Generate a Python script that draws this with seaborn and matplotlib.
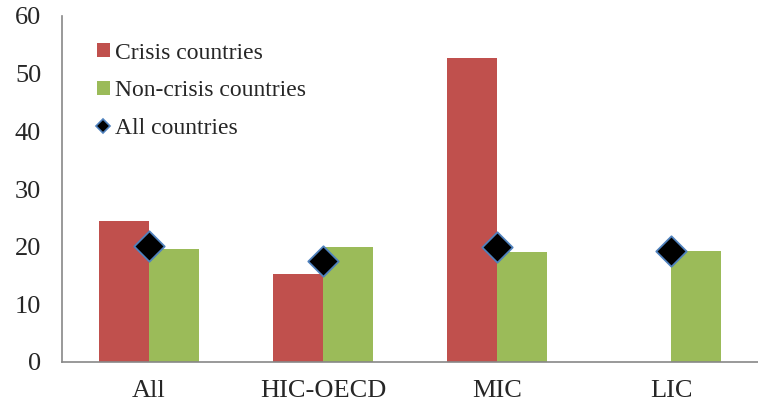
import matplotlib
matplotlib.use("Agg")
import matplotlib.pyplot as plt
import seaborn as sns
import pandas as pd
import numpy as np
from matplotlib.patches import Patch
from matplotlib.lines import Line2D

categories = ["All", "HIC-OECD", "MIC", "LIC"]
crisis = [24.4, 15.2, 52.7, np.nan]
non_crisis = [19.6, 20.0, 19.0, 19.2]
all_countries = [20.1, 17.6, 20.0, 19.2]
series_names = ["Crisis countries", "Non-crisis countries", "All countries"]
y_ticks = [0, 10, 20, 30, 40, 50, 60]

sns.set_theme(style="white")
plt.rcParams["font.family"] = ["Liberation Serif", "DejaVu Serif"]

red = "#C0504D"
green = "#9BBB59"
axis_gray = "#878787"

df = pd.DataFrame({
    "category": categories * 2,
    "value": crisis + non_crisis,
    "series": [series_names[0]] * 4 + [series_names[1]] * 4,
})

fig = plt.figure(figsize=(7.58, 4.07), dpi=100)
ax = fig.add_axes([62 / 758, 45 / 407, 1 - 62 / 758, (362 - 16) / 407])

sns.barplot(data=df, x="category", y="value", hue="series", order=categories,
            hue_order=series_names[:2], palette=[red, green], width=0.575,
            saturation=1, ax=ax, legend=False, linewidth=0)

xpos = np.arange(len(categories))
ax.scatter(xpos, all_countries, marker="D", s=15.5 ** 2, color="black",
           edgecolors="#4F81BD", linewidths=1.3, zorder=5)

ax.set_ylim(0, 60)
ax.set_xlim(-0.5, 3.455)
ax.set_yticks(y_ticks)
ax.set_yticklabels([str(v) for v in y_ticks], fontsize=19)
ax.set_xticks(xpos)
ax.set_xticklabels(categories, fontsize=19)
ax.set_xticks([-0.5, 0.5, 1.5, 2.5, 3.5], minor=True)
ax.tick_params(axis="x", which="major", length=0, pad=13)
ax.tick_params(axis="x", which="minor", length=6, width=1, color=axis_gray, direction="out")
ax.tick_params(axis="y", which="major", length=6, width=1, color=axis_gray, direction="out", pad=9)
ax.set_xlabel("")
ax.set_ylabel("")
for s in ["top", "right"]:
    ax.spines[s].set_visible(False)
for s in ["left", "bottom"]:
    ax.spines[s].set_color(axis_gray)
    ax.spines[s].set_linewidth(1.2)
ax.grid(False)

handles = [
    Patch(facecolor=red, edgecolor="none"),
    Patch(facecolor=green, edgecolor="none"),
    Line2D([], [], marker="D", linestyle="none", markerfacecolor="black",
           markeredgecolor="#4F81BD", markersize=7, markeredgewidth=1.2),
]
leg = ax.legend(handles, series_names, loc="upper left", bbox_to_anchor=(0.05, 0.923),
                frameon=False, fontsize=17, handlelength=0.55, handleheight=0.55,
                handletextpad=0.22, labelspacing=0.7, borderaxespad=0, borderpad=0)

fig.savefig("out.png", dpi=100)
